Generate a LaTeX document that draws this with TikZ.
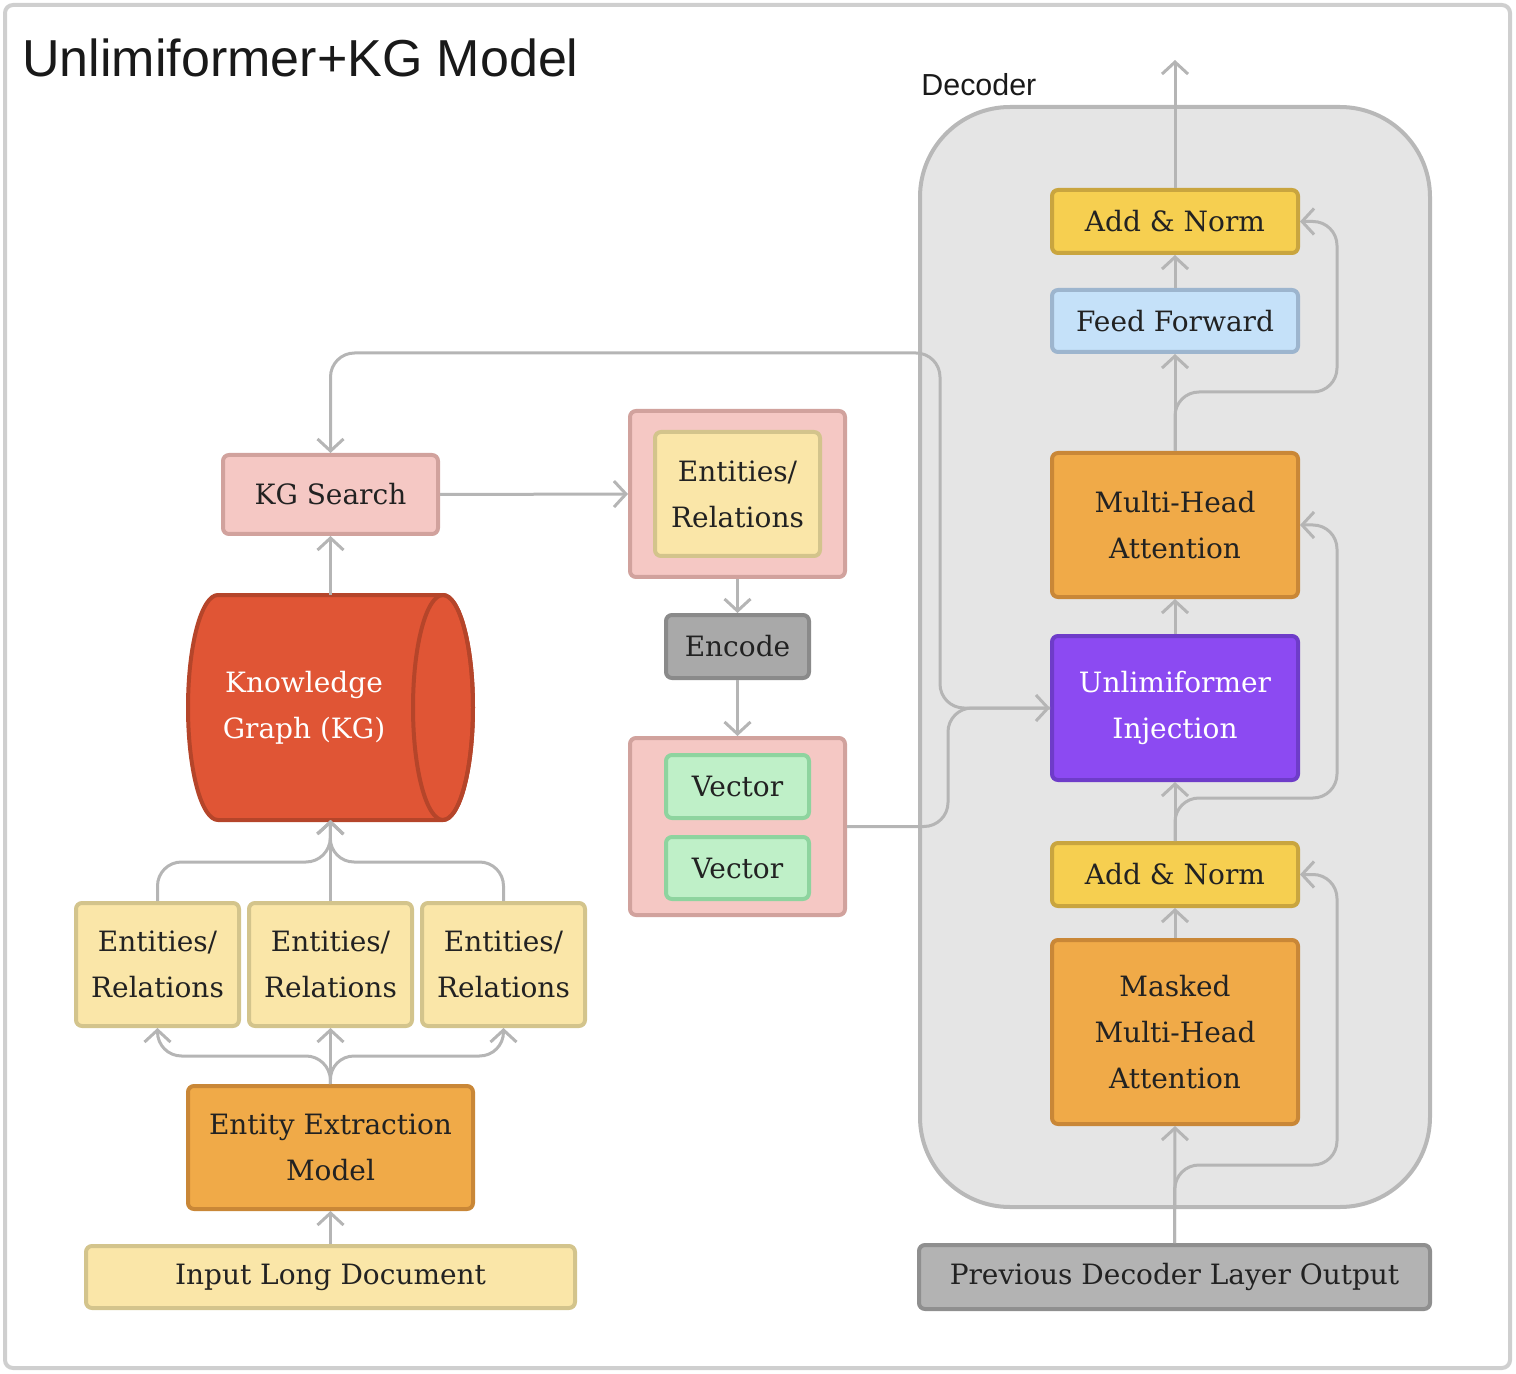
\documentclass[tikz,border=0pt]{standalone}
\usepackage{fontspec}
\setmainfont{DejaVu Serif}
\newfontfamily\titlefont{Liberation Sans}
\usetikzlibrary{arrows.meta}
\definecolor{lgray}{HTML}{B5B5B5}
\definecolor{framegray}{HTML}{CFCFCF}
\definecolor{decfill}{HTML}{E5E5E5}
\definecolor{decline}{HTML}{B8B8B8}
\definecolor{txt}{HTML}{222222}
\definecolor{ylwF}{HTML}{F6CF50}\definecolor{ylwD}{HTML}{C9A53F}
\definecolor{bluF}{HTML}{C5E1F9}\definecolor{bluD}{HTML}{9DB5CE}
\definecolor{orgF}{HTML}{F0AA48}\definecolor{orgD}{HTML}{C98737}
\definecolor{purF}{HTML}{8C4AF2}\definecolor{purD}{HTML}{6E3CC9}
\definecolor{gryF}{HTML}{B3B3B3}\definecolor{gryD}{HTML}{8F8F8F}
\definecolor{encF}{HTML}{A9A9A9}\definecolor{encD}{HTML}{8A8A8A}
\definecolor{lylF}{HTML}{FAE6A8}\definecolor{lylD}{HTML}{D3C48C}
\definecolor{pnkF}{HTML}{F5C8C4}\definecolor{pnkD}{HTML}{D1A29D}
\definecolor{grnF}{HTML}{BFF0C8}\definecolor{grnD}{HTML}{8ED49F}
\definecolor{kgF}{HTML}{E05535}\definecolor{kgD}{HTML}{B5452A}
\begin{document}
\begin{tikzpicture}[x=0.5pt,y=-0.5pt,
  box/.style={draw, line width=2pt, rounded corners=3pt, inner sep=0pt, align=center,
    font=\fontsize{14}{23}\selectfont, text=txt},
  ylw/.style={box, fill=ylwF, draw=ylwD},
  blu/.style={box, fill=bluF, draw=bluD},
  org/.style={box, fill=orgF, draw=orgD},
  pur/.style={box, fill=purF, draw=purD, text=white},
  gry/.style={box, fill=gryF, draw=gryD},
  enc/.style={box, fill=encF, draw=encD},
  lyl/.style={box, fill=lylF, draw=lylD},
  pnk/.style={box, fill=pnkF, draw=pnkD},
  grn/.style={box, fill=grnF, draw=grnD},
  conn/.style={draw=lgray, line width=1.5pt, rounded corners=12pt},
  arr/.style={conn, -{Straight Barb[length=6pt,width=13pt]}}
]
\useasboundingbox (0,0) rectangle (1516,1374);
\draw[draw=framegray, line width=2pt, rounded corners=4pt] (5,5) rectangle (1510,1368);

% title
\node[anchor=base west, inner sep=0pt, font=\titlefont\fontsize{26}{30}\selectfont, text=black!90] (title) at (22,77) {Unlimiformer+KG Model};
\node[anchor=base west, inner sep=0pt, font=\titlefont\fontsize{15.2}{18}\selectfont, text=black!90] (declabel) at (921,96) {Decoder};

% decoder container
\draw[fill=decfill, draw=decline, line width=2pt, rounded corners=45pt] (920,107) rectangle (1430,1207);

% decoder column
\node[ylw, minimum width=123pt, minimum height=31.5pt] (an2) at (1175,221.5) {Add \& Norm};
\node[blu, minimum width=123pt, minimum height=31pt] (ff) at (1175,321) {Feed Forward};
\node[org, minimum width=123pt, minimum height=72pt] (mha) at (1175,525) {Multi-Head\\Attention};
\node[pur, minimum width=123pt, minimum height=72pt] (unl) at (1175,708) {Unlimiformer\\Injection};
\node[ylw, minimum width=123pt, minimum height=31.5pt] (an1) at (1175,874.5) {Add \& Norm};
\node[org, minimum width=123pt, minimum height=92pt] (mmha) at (1175,1032) {Masked\\Multi-Head\\Attention};
\node[gry, minimum width=255.5pt, minimum height=32pt] (prev) at (1174.5,1277) {Previous Decoder Layer Output};
\coordinate (out) at (1175,60);

% left column
\node[lyl, minimum width=244.5pt, minimum height=31pt] (input) at (330.5,1277) {Input Long Document};
\node[org, minimum width=142.5pt, minimum height=61.5pt] (eem) at (330.5,1147.5) {Entity Extraction\\Model};
\node[lyl, minimum width=81.5pt, minimum height=61.5pt] (er1) at (157.5,964.5) {Entities/\\Relations};
\node[lyl, minimum width=81.5pt, minimum height=61.5pt] (er2) at (330.5,964.5) {Entities/\\Relations};
\node[lyl, minimum width=81.5pt, minimum height=61.5pt] (er3) at (503.5,964.5) {Entities/\\Relations};

% knowledge graph cylinder
\node[minimum width=142.5pt, minimum height=112.5pt, inner sep=0pt, outer sep=0pt] (kg) at (330.5,707.5) {};
\draw[fill=kgF, draw=kgD, line width=2pt] (218,595) arc[start angle=90, end angle=270, x radius=15pt, y radius=56.25pt]
  -- (443,820) arc[start angle=270, end angle=450, x radius=15pt, y radius=56.25pt] -- cycle;
\draw[draw=kgD, line width=2pt] (443,707.5) ellipse[x radius=15pt, y radius=56.25pt];
\node[align=center, text=white, font=\fontsize{14}{23}\selectfont, inner sep=0pt] (kgtext) at (304,708) {Knowledge\\Graph (KG)};

\node[pnk, minimum width=107.5pt, minimum height=39.5pt] (kgs) at (330.5,494.5) {KG Search};

% middle column
\node[pnk, minimum width=107.5pt, minimum height=83pt] (cont1) at (737.5,494) {};
\node[lyl, minimum width=82.5pt, minimum height=62pt] (er4) at (737.5,494) {Entities/\\Relations};
\node[enc, minimum width=71.5pt, minimum height=31.5pt] (encd) at (737.5,646.5) {Encode};
\node[pnk, minimum width=107.5pt, minimum height=88.5pt] (cont2) at (737.5,826.5) {};
\node[grn, minimum width=71.5pt, minimum height=31.5pt] (v1) at (737.5,786.5) {Vector};
\node[grn, minimum width=71.5pt, minimum height=31pt] (v2) at (737.5,868) {Vector};

% connectors: decoder
\draw[arr] (an2.north) -- (out);
\draw[arr] (ff.north) -- (an2.south);
\draw[arr] (mha.north) -- (ff.south);
\draw[arr] (mha.north) -- (1175,392) -- (1337,392) |- (an2.east);
\draw[arr] (unl.north) -- (mha.south);
\draw[arr] (an1.north) -- (unl.south);
\draw[arr] (an1.north) -- (1175,798) -- (1337,798) |- (mha.east);
\draw[arr] (mmha.north) -- (an1.south);
\draw[arr] (prev.north) -- (mmha.south);
\draw[arr] (prev.north) -- (1175,1165) -- (1337,1165) |- (an1.east);

% connectors: left
\draw[arr] (input.north) -- (eem.south);
\draw[arr] (eem.north) -- (er2.south);
\draw[arr] (eem.north) -- (330,1056) -| (er1.south);
\draw[arr] (eem.north) -- (330,1056) -| (er3.south);
\draw[arr] (er2.north) -- (kg.south);
\draw[arr] (er1.north) |- (330,862) -- (kg.south);
\draw[arr] (er3.north) |- (330,862) -- (kg.south);
\draw[arr] (kg.north) -- (kgs.south);
\draw[arr] (kgs.east) -- (cont1.west);
\draw[arr] (cont1.south) -- (encd.north);
\draw[arr] (encd.south) -- (cont2.north);
\draw[arr] (cont2.east) -- (948,826.5) -- (948,708) -- (unl.west);
\draw[arr] (unl.west) -- (940,708) -- (940,353) -| (kgs.north);
\end{tikzpicture}
\end{document}
